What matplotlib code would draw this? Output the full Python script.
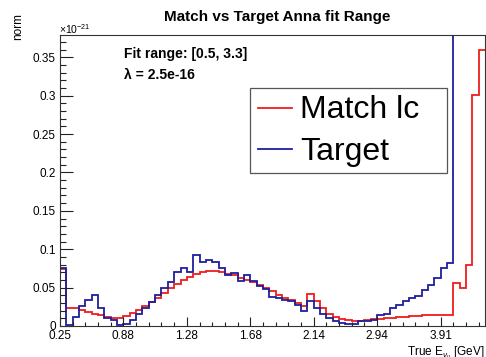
import numpy as np
import matplotlib
matplotlib.use("Agg")
import matplotlib.pyplot as plt
from matplotlib.patches import Rectangle
from matplotlib.lines import Line2D

plt.rcParams["font.family"] = ["Liberation Sans", "DejaVu Sans"]
plt.rcParams["mathtext.fontset"] = "custom"
plt.rcParams["mathtext.rm"] = "Liberation Sans"
plt.rcParams["mathtext.it"] = "Liberation Sans:italic"

# bin contents (units of 1e-21)
match_lc = [0.074, 0.023, 0.023, 0.021, 0.018, 0.016, 0.014, 0.012, 0.011, 0.010,
            0.013, 0.017, 0.021, 0.026, 0.031, 0.037, 0.043, 0.049, 0.055, 0.060,
            0.064, 0.068, 0.070, 0.071, 0.071, 0.070, 0.068, 0.066, 0.063, 0.060,
            0.057, 0.053, 0.049, 0.045, 0.040, 0.037, 0.034, 0.030, 0.026, 0.042,
            0.032, 0.023, 0.016, 0.012, 0.009, 0.008, 0.007, 0.007, 0.008, 0.009,
            0.009, 0.010, 0.011, 0.012, 0.012, 0.013, 0.013, 0.014, 0.014, 0.014,
            0.014, 0.014, 0.056, 0.050, 0.079, 0.301, 0.360]
target = [0.075, 0.001, 0.012, 0.026, 0.034, 0.040, 0.024, 0.011, 0.008, 0.001,
          0.003, 0.008, 0.016, 0.024, 0.031, 0.040, 0.049, 0.057, 0.070, 0.075,
          0.070, 0.092, 0.084, 0.086, 0.083, 0.076, 0.067, 0.069, 0.059, 0.066,
          0.058, 0.052, 0.048, 0.038, 0.037, 0.034, 0.032, 0.027, 0.020, 0.032,
          0.024, 0.016, 0.011, 0.007, 0.004, 0.003, 0.003, 0.0065, 0.007, 0.008,
          0.014, 0.015, 0.023, 0.027, 0.033, 0.037, 0.039, 0.047, 0.053, 0.062,
          0.075, 0.082, 0.45, 0.55, 0.65, 0.75, 0.85]
tick_bins = [0, 10, 20, 30, 40, 50, 60]
tick_labels = ["0.25", "0.88", "1.28", "1.68", "2.14", "2.94", "3.91"]

W, H = 486, 357
fig = plt.figure(figsize=(W / 100, H / 100), dpi=100)


def fx(px):
    return px / W


def fy(py):
    return 1 - py / H


ax = fig.add_axes([fx(60), fy(326), (485 - 60) / W, (326 - 35) / H])

edges = np.arange(len(match_lc) + 1)
ax.stairs(match_lc, edges, color="#ee1c1c", lw=1.3, baseline=None)
ax.stairs(target, edges, color="#1f1f9c", lw=1.3, baseline=None)

ax.set_xlim(0, len(match_lc))
ax.set_ylim(0, 0.379)

ax.set_xticks(tick_bins)
ax.set_xticklabels(tick_labels)
ax.set_xticks(np.arange(0, len(match_lc) + 1, 2), minor=True)
ax.set_yticks(np.arange(0, 0.36, 0.05))
ax.set_yticklabels(["0", "0.05", "0.1", "0.15", "0.2", "0.25", "0.3", "0.35"])
ax.set_yticks(np.arange(0, 0.379, 0.01), minor=True)

ax.tick_params(axis="both", which="both", direction="in", top=False, right=False,
               labelsize=8.5, color="#222222", width=0.8)
ax.tick_params(axis="x", which="major", length=6.3, pad=3)
ax.tick_params(axis="x", which="minor", length=3.2)
ax.tick_params(axis="y", which="major", length=9, pad=3)
ax.tick_params(axis="y", which="minor", length=4.5)
for s in ax.spines.values():
    s.set_linewidth(0.8)
    s.set_color("#333333")

# texts
fig.text(fx(277), fy(16.5), "Match vs Target Anna fit Range", ha="center", va="center",
         fontsize=11, fontweight="bold")
fig.text(fx(18), fy(13), "norm", rotation=90, ha="center", va="top", fontsize=8.5)
fig.text(fx(59), fy(34), r"$\times$10$^{-21}$", ha="left", va="baseline", fontsize=7.5)
fig.text(fx(485), fy(355), r"True E$_{\nu_{\mu}}$ [GeV]", ha="right", va="baseline",
         fontsize=8.5)
fig.text(fx(124), fy(58), "Fit range: [0.5, 3.3]", ha="left", va="baseline",
         fontsize=10, fontweight="bold")
fig.text(fx(124), fy(79), "λ = 2.5e-16", ha="left", va="baseline",
         fontsize=10, fontweight="bold")

# legend box
fig.patches.append(Rectangle((fx(250), fy(173)), (447 - 250) / W, (173 - 88) / H,
                             transform=fig.transFigure, facecolor="white",
                             edgecolor="#555555", lw=0.9, zorder=5))
fig.lines.append(Line2D([fx(258), fx(292)], [fy(108), fy(108)], transform=fig.transFigure,
                        color="#ee1c1c", lw=1.3, zorder=6))
fig.lines.append(Line2D([fx(258), fx(292)], [fy(149), fy(149)], transform=fig.transFigure,
                        color="#1f1f9c", lw=1.3, zorder=6))
fig.text(fx(300), fy(118.5), "Match lc", ha="left", va="baseline", fontsize=23, zorder=7)
fig.text(fx(300), fy(160), "Target", ha="left", va="baseline", fontsize=23, zorder=7)

fig.savefig("out.png", dpi=100, facecolor="white")
